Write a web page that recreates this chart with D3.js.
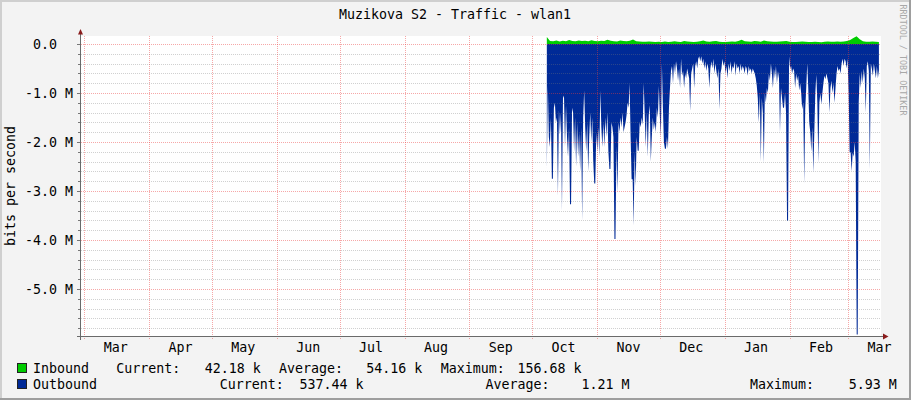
<!DOCTYPE html>
<html><head><meta charset="utf-8">
<script src="https://cdn.jsdelivr.net/npm/d3@7"></script>
<style>
html,body{margin:0;padding:0;background:#F3F3F3;}
svg{display:block;}
text{font-family:"DejaVu Sans Mono",monospace;white-space:pre;}
</style></head><body>
<svg id="chart" width="911" height="400"></svg>
<script>
// ---------- data ----------
const chartTitle = "Muzikova S2 - Traffic - wlan1";
const yAxisTitle = "bits per second";
const watermarkText = "RRDTOOL / TOBI OETIKER";
const timeDomain = ["2024-02-28T10:10:00Z", "2025-03-16T16:00:00Z"];
const valueDomain = [-5.96e6, 0.163e6];
const monthTickLabels = ["Mar","Apr","May","Jun","Jul","Aug","Sep","Oct","Nov","Dec","Jan","Feb","Mar"];
const yMajorValues = [0, -1e6, -2e6, -3e6, -4e6, -5e6];
const yTickLabels = ["0.0  ", "-1.0 M", "-2.0 M", "-3.0 M", "-4.0 M", "-5.0 M"];
const yMinorStep = 0.2e6;
const seriesStart = "2024-10-08T00:00:00Z";
const seriesEnd = "2025-03-15T16:00:00Z";
// inbound, kbit/s (positive)
const inboundK = [
 143,60,55,70,52,65,58,80,62,55,
 72,60,66,58,75,62,54,68,60,85,
 64,58,52,70,61,56,64,90,58,50,
 45,48,52,44,40,46,42,50,38,44,
 56,48,42,60,52,46,40,48,55,70,
 50,44,58,62,48,40,38,45,52,47,
 60,85,58,50,46,62,55,48,70,58,
 52,46,44,50,56,62,48,42,40,46,
 52,44,38,42,48,40,36,44,50,46,
 48,52,46,50,60,80,120,156.68,95,55,
 48,44,50,46,42.18
];
// outbound, Mbit/s (plotted below zero)
const outboundM = [
 2.55,0.85,1.9,2.1,1.5,2.75,2.75,1.3,1.2,1.6,
 1.5,3.1,1.35,1.85,1.4,3.4,1.1,1.05,2.1,1.25,
 1.9,2.3,1.7,3.27,3.27,1.3,1.4,2.2,1.5,2.5,
 1.6,2.3,1.8,2.6,1.7,3.6,1.5,0.95,1.7,2.2,
 1.6,2.6,1.9,1.4,2.0,1.5,2.4,2.85,2.85,1.8,
 2.2,1.7,2.3,0.95,1.7,2.1,1.6,2.1,1.5,1.9,
 1.4,2.2,2.55,2.55,1.6,1.7,1.9,3.98,3.98,2.08,
 3.04,1.6,1.8,1.5,1.7,1.4,1.8,1.7,1.6,1.45,
 1.2,1.3,0.8,1.9,2.76,2.76,3.7,2.2,2.9,1.9,
 2.18,2.18,1.6,1.7,1.5,1.65,0.8,1.45,2.1,1.4,
 2.3,1.45,1.25,2.4,1.9,1.5,1.75,1.6,1.8,1.3,
 1.5,0.86,1.5,1.9,0.4,1.3,2.0,2.14,2.14,1.9,
 2.14,1.3,0.9,0.55,0.45,0.8,0.4,0.6,0.35,0.5,
 0.75,0.5,0.9,0.3,0.65,0.55,0.9,0.6,0.7,0.5,
 0.6,0.7,1.37,0.6,0.5,0.4,0.9,0.45,0.35,0.5,
 0.3,0.25,0.35,0.25,0.4,0.3,0.5,0.35,0.55,0.4,
 0.5,0.9,0.5,0.35,0.5,0.3,0.6,0.4,0.55,0.7,
 0.5,1.33,0.6,0.5,0.3,0.45,0.35,0.6,0.45,0.7,
 0.4,0.55,0.35,0.6,0.45,0.5,0.35,0.65,0.4,0.5,
 0.45,0.6,0.4,0.55,0.45,0.5,0.6,0.45,0.5,0.65,
 0.45,0.55,0.5,0.6,0.5,0.55,0.6,0.7,0.85,1.1,
 1.6,1.0,2.4,1.1,1.4,2.43,1.0,1.2,0.9,1.0,
 0.6,0.75,0.4,0.6,0.9,0.5,0.7,0.45,0.8,0.55,
 0.7,1.8,0.9,1.1,1.3,1.3,1.0,1.4,3.61,3.61,
 0.25,0.5,0.45,0.6,0.5,0.55,0.9,0.6,0.75,0.65,
 0.95,0.8,1.0,1.33,1.2,2.84,1.33,0.9,0.4,0.9,
 1.6,1.8,2.2,1.7,2.63,1.8,1.0,0.63,1.2,2.43,
 1.2,1.0,1.23,1.0,0.8,0.65,0.72,0.6,0.7,0.8,
 1.4,0.9,0.75,1.0,0.8,1.2,0.9,0.6,0.45,0.55,
 0.5,0.6,0.4,0.3,0.45,0.3,0.35,0.5,0.3,1.0,
 2.2,2.22,2.6,2.22,2.3,2.0,2.4,5.93,5.93,1.2,
 0.6,0.9,0.55,0.8,0.5,0.7,1.4,0.45,0.35,0.55,
 2.55,0.4,0.5,0.65,0.4,0.55,0.7,0.45,0.7,0.537
];
const legendNames = ["Inbound","Outbound"];
const legendColors = ["#00CC00","#002A97"];
const legendCurrent = ["42.18 k","537.44 k"];
const legendAverage = ["54.16 k","1.21 M"];
const legendMaximum = ["156.68 k","5.93 M"];

// ---------- drawing ----------
const W = 911, H = 400;
const L = 81, R = 881, T = 36, B = 336;
const FS = 13.3;
const svg = d3.select("#chart");

svg.append("rect").attr("width", W).attr("height", H).attr("fill", "#F3F3F3");
svg.append("rect").attr("x",0).attr("y",0).attr("width",W).attr("height",2).attr("fill","#CFCFCF");
svg.append("rect").attr("x",0).attr("y",0).attr("width",2).attr("height",H).attr("fill","#CFCFCF");
svg.append("rect").attr("x",0).attr("y",H-2).attr("width",W).attr("height",2).attr("fill","#9E9E9E");
svg.append("rect").attr("x",W-2).attr("y",0).attr("width",2).attr("height",H).attr("fill","#9E9E9E");

svg.append("rect").attr("x", L).attr("y", T).attr("width", R-L).attr("height", B-T).attr("fill", "#FFFFFF");

const x = d3.scaleUtc().domain(timeDomain.map(d => new Date(d))).range([L, R]);
const y = d3.scaleLinear().domain(valueDomain).range([B, T]);

function seriesTimes(n){
  const s = new Date(seriesStart).getTime(), e = new Date(seriesEnd).getTime();
  return d3.range(n).map(i => new Date(s + i*(e-s)/(n-1)));
}
const tIn = seriesTimes(inboundK.length);
const tOut = seriesTimes(outboundM.length);
const inData = inboundK.map((v,i)=>({t:tIn[i], v:v*1e3}));
const outData = outboundM.map((v,i)=>({t:tOut[i], v:-v*1e6}));

svg.append("clipPath").attr("id","clip").append("rect")
  .attr("x",L).attr("y",T).attr("width",R-L).attr("height",B-T);
const plot = svg.append("g").attr("clip-path","url(#clip)");

plot.append("path").datum(outData).attr("fill", legendColors[1])
  .attr("d", d3.area().x(d=>x(d.t)).y0(y(0)).y1(d=>y(d.v)).curve(d3.curveLinear));
plot.append("path").datum(inData).attr("fill", legendColors[0])
  .attr("d", d3.area().x(d=>x(d.t)).y0(y(0)).y1(d=>y(d.v)).curve(d3.curveLinear));

// grid
const nMinor = Math.floor((0 - valueDomain[0]) / yMinorStep);
const gridG = svg.append("g");
d3.range(0, nMinor+1).forEach(i => {
  const v = -i*yMinorStep;
  const major = yMajorValues.some(m => Math.abs(m - v) < 1);
  const yy = Math.round(y(v)) + 0.5;
  if (yy > B) return;
  gridG.append("line").attr("x1", L).attr("x2", R).attr("y1", yy).attr("y2", yy)
    .attr("stroke", major ? "rgba(235,60,60,0.45)" : "rgba(120,120,120,0.35)")
    .attr("stroke-dasharray", "1,1");
  gridG.append("line").attr("x1", major ? 77 : 78).attr("x2", 80).attr("y1", yy).attr("y2", yy)
    .attr("stroke", "#777");
});
const monthStarts = d3.utcMonth.range(x.domain()[0], x.domain()[1]).filter(d => d >= x.domain()[0]);
monthStarts.forEach(d => {
  const xx = Math.round(x(d)) + 0.5;
  gridG.append("line").attr("x1", xx).attr("x2", xx).attr("y1", T).attr("y2", B+4)
    .attr("stroke", "rgba(235,60,60,0.45)").attr("stroke-dasharray", "1,1");
});

// axes
const axisColor = "#6A6A6A", arrowColor = "#8A1C1C";
svg.append("line").attr("x1",80.5).attr("x2",80.5).attr("y1",33).attr("y2",340).attr("stroke",axisColor);
svg.append("line").attr("x1",77).attr("x2",884).attr("y1",336.5).attr("y2",336.5).attr("stroke",axisColor);
svg.append("path").attr("d","M78,34.5L83,34.5L80.5,29Z").attr("fill",arrowColor);
svg.append("path").attr("d","M883,333.5L883,339.5L888.5,336.5Z").attr("fill",arrowColor);

// y labels
yMajorValues.forEach((v,i) => {
  svg.append("text").attr("x", 73).attr("y", y(v) + 5).attr("text-anchor","end")
    .attr("font-size", FS).attr("fill","#000").text(yTickLabels[i]);
});
// month labels (mid month)
monthStarts.forEach((d,i) => {
  const mid = d3.utcDay.offset(d, 15);
  if (mid > x.domain()[1] || i >= monthTickLabels.length) return;
  svg.append("text").attr("x", x(mid)).attr("y", 352).attr("text-anchor","middle")
    .attr("font-size", FS).attr("fill","#000").text(monthTickLabels[i]);
});

// title
svg.append("text").attr("x", 455).attr("y", 19.3).attr("text-anchor","middle")
  .attr("font-size", FS).attr("fill","#000").text(chartTitle);
// y axis title
svg.append("text").attr("transform","translate(15,186) rotate(-90)").attr("text-anchor","middle")
  .attr("font-size", FS).attr("fill","#000").text(yAxisTitle);
// watermark
svg.append("text").attr("transform","translate(899.5,60) rotate(90)").attr("text-anchor","middle")
  .attr("font-size", 8.4).attr("fill","#A8A8A8").text(watermarkText);

// legend
const rows = [
  {y:373, pos:[116.3,204.7,279,366.3,440.7,517.4]},
  {y:389, pos:[219.8,299.4,485.5,581.4,750,848.8]}
];
rows.forEach((r,i) => {
  svg.append("rect").attr("x",17.5).attr("y",r.y-9.5).attr("width",9).attr("height",9)
    .attr("fill",legendColors[i]).attr("stroke","#222").attr("stroke-width",1);
  const parts = [legendNames[i], "Current:", legendCurrent[i], "Average:", legendAverage[i], "Maximum:", legendMaximum[i]];
  const xs = [33].concat(r.pos);
  parts.forEach((p,j) => {
    svg.append("text").attr("x", xs[j]).attr("y", r.y).attr("font-size", FS).attr("fill","#000").text(p);
  });
});
</script>
</body></html>
